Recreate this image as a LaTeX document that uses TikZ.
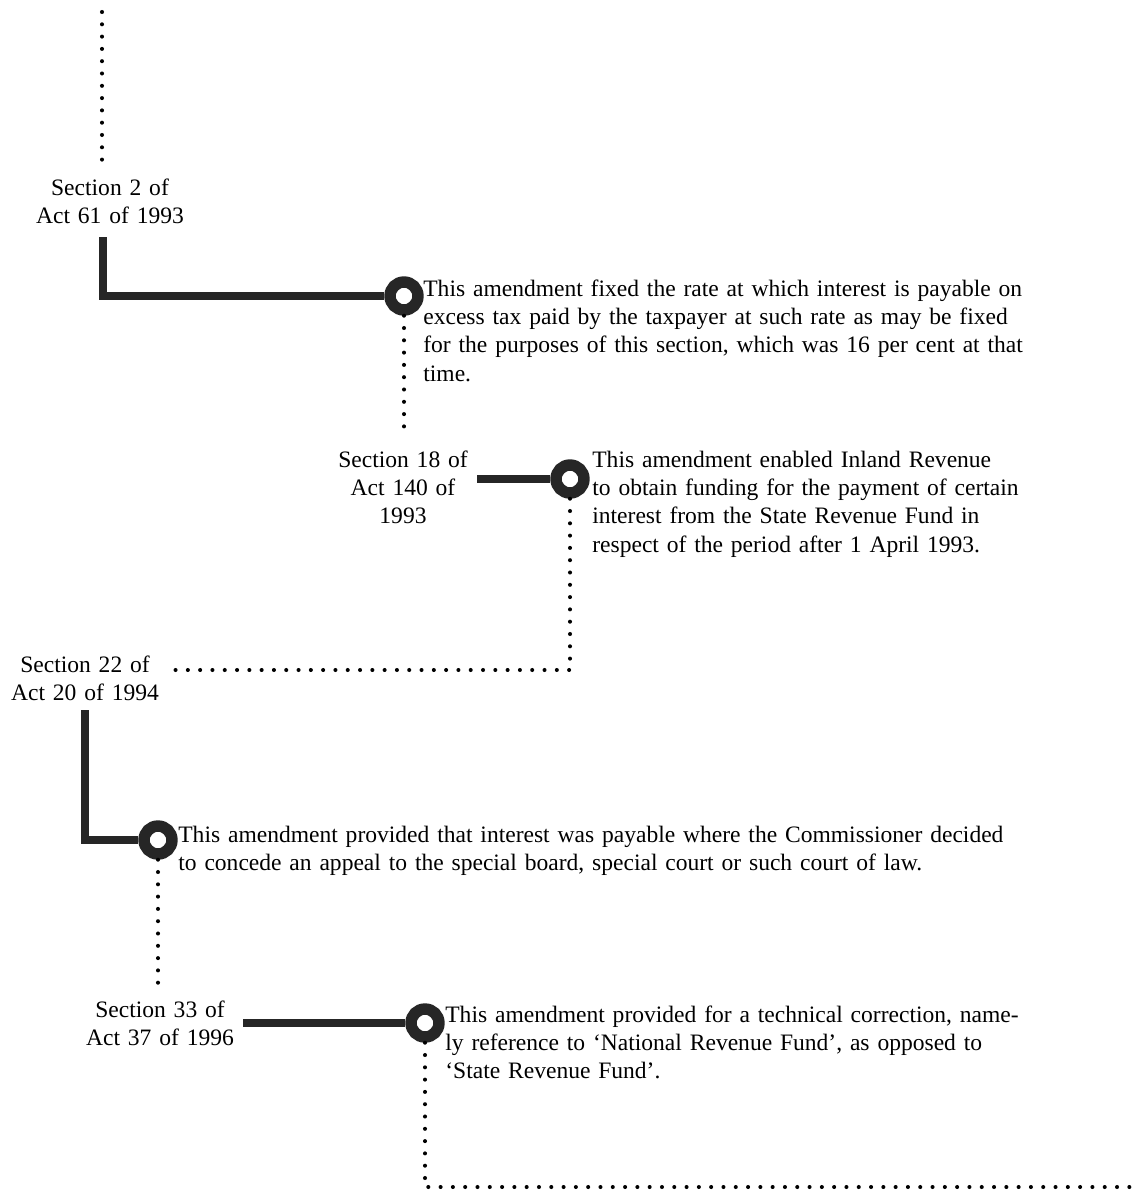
\documentclass[tikz,border=0pt]{standalone}
\usepackage{fontspec}
\setmainfont{Liberation Serif}
\usepackage{tikz}

\begin{document}
\begin{tikzpicture}[x=0.02cm,y=-0.02cm,
  thickline/.style={line width=4.2pt,draw=black!85},
  dotline/.style={line width=2.3pt,dash pattern=on 0pt off 7pt,line cap=round},
  ring/.style={circle,draw=black!85,line width=6.5pt,minimum size=0.56cm,inner sep=0pt,fill=white},
  lbl/.style={anchor=base,text width=4cm,align=center,inner sep=0pt,font=\fontsize{13.4}{16.2}\selectfont},
  note/.style={anchor=base west,text width=18cm,align=left,inner sep=0pt,font=\fontsize{13.4}{16.2}\selectfont}]
\useasboundingbox (0,0) rectangle (1141,1190);
% act labels
\node[lbl] (s2) at (110,195) {Section 2 of\\Act 61 of 1993};
\node[lbl] (s18) at (403,467) {Section 18 of\\Act 140 of\\1993};
\node[lbl] (s22) at (85,672) {Section 22 of\\Act 20 of 1994};
\node[lbl] (s33) at (160,1017) {Section 33 of\\Act 37 of 1996};
% rings
\node[ring] (c1) at (404,296) {};
\node[ring] (c2) at (570,479) {};
\node[ring] (c3) at (158,840) {};
\node[ring] (c4) at (425,1023) {};
% notes
\node[note] (n1) at (423,296) {This amendment fixed the rate at which interest is payable on\\
excess tax paid by the taxpayer at such rate as may be fixed\\
for the purposes of this section, which was 16 per cent at that\\
time.};
\node[note] (n2) at (592,467) {This amendment enabled Inland Revenue\\
to obtain funding for the payment of certain\\
interest from the State Revenue Fund in\\
respect of the period after 1 April 1993.};
\node[note] (n3) at (178,842) {This amendment provided that interest was payable where the Commissioner decided\\
to concede an appeal to the special board, special court or such court of law.};
\node[note] (n4) at (445,1022) {This amendment provided for a technical correction, name-\\
ly reference to `National Revenue Fund', as opposed to\\
`State Revenue Fund'.};
% free ends
\coordinate (t0) at (102,12);
\coordinate (t1) at (102,163);
\coordinate (a2) at (103,237);
\coordinate (d1) at (404,432);
\coordinate (a18) at (477,479);
\coordinate (d2) at (172,670);
\coordinate (a22) at (85,710);
\coordinate (d3) at (158,983);
\coordinate (a33) at (243,1023);
\coordinate (d4) at (1141,1187);
% dotted links
\draw[dotline] (t0) -- (t1);
\draw[dotline] (c1.south) -- (d1);
\draw[dotline] (c2.south) |- (d2);
\draw[dotline] (c3.south) -- (d3);
\draw[dotline] (c4.south) |- (d4);
% thick links
\draw[thickline] (a2) |- (c1.west);
\draw[thickline] (a18) -- (c2.west);
\draw[thickline] (a22) |- (c3.west);
\draw[thickline] (a33) -- (c4.west);
\end{tikzpicture}
\end{document}
